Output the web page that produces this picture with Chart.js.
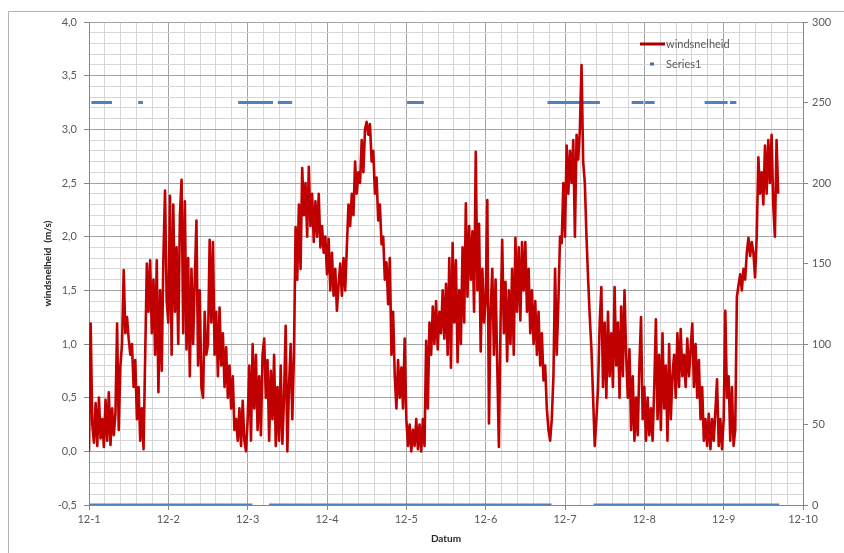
<!DOCTYPE html>
<html>
<head>
<meta charset="utf-8">
<script src="https://cdn.jsdelivr.net/npm/chart.js@4.4.1/dist/chart.umd.min.js"></script>
<style>
    html, body { margin: 0; padding: 0; background: #fff; }
    #wrap { position: relative; width: 844px; height: 553px; }
</style>
</head>
<body>
<div id="wrap"><canvas id="windChart"></canvas></div>
<script>
"use strict";

// date labels for the x axis, one per day
const dateLabels = ["12-1", "12-2", "12-3", "12-4", "12-5", "12-6", "12-7", "12-8", "12-9", "12-10"];

// half-hourly samples starting at 12-1 00:00 (one row = half a day)
const sampleStep = 1 / 48;
const windSpeed = [
    0.0, 1.19, 0.25, 0.08, 0.45, 0.05, 0.5, 0.12, 0.3, 0.04, 0.48, 0.1, 0.55, 0.06, 0.4, 0.15, 0.35, 1.19, 0.2, 0.8, 1.0, 1.69, 1.1, 1.25,
    1.05, 0.9, 1.0, 0.6, 0.85, 0.3, 0.6, 0.1, 0.4, 0.02, 0.9, 1.75, 1.3, 1.78, 1.1, 1.6, 0.9, 1.78, 0.55, 1.5, 0.75, 1.8, 2.43, 1.4,
    1.2, 2.38, 0.9, 2.3, 1.3, 1.9, 1.0, 2.2, 2.53, 1.1, 2.33, 0.95, 1.8, 0.7, 1.7, 1.0, 1.6, 2.15, 0.8, 1.5, 0.6, 0.5, 1.3, 0.9,
    1.0, 1.97, 1.2, 1.95, 0.9, 1.3, 0.7, 1.34, 0.8, 1.1, 0.6, 0.97, 0.5, 0.8, 0.4, 0.7, 0.2, 0.3, 0.1, 0.4, 0.05, 0.47, 0.1, 0.0,
    0.3, 0.8, 0.1, 1.0, 0.4, 0.9, 0.2, 0.7, 0.15, 0.9, 1.05, 0.5, 0.85, 0.1, 0.75, 0.3, 0.9, 0.05, 0.6, 0.1, 0.8, 0.07, 0.5, 1.17,
    0.0, 0.6, 1.0, 0.3, 0.9, 2.09, 1.6, 2.3, 1.7, 2.64, 2.2, 2.5, 2.0, 2.65, 2.1, 2.4, 1.95, 2.33, 2.0, 2.4, 1.9, 2.1, 1.85, 2.0,
    1.65, 1.98, 1.5, 1.85, 1.45, 1.7, 1.31, 1.55, 1.75, 1.45, 1.8, 1.5, 1.9, 2.3, 2.1, 2.4, 2.2, 2.7, 2.4, 2.6, 2.5, 2.9, 2.6, 3.0,
    3.07, 2.95, 3.05, 2.7, 2.8, 2.4, 2.55, 2.15, 2.3, 1.93, 2.0, 1.6, 1.76, 1.37, 1.8, 0.9, 1.3, 0.7, 0.4, 0.85, 0.5, 0.78, 0.4, 1.05,
    0.3, 0.05, 0.25, 0.0, 0.2, 0.05, 0.3, 0.02, 0.25, 0.0, 0.3, 0.05, 1.03, 0.4, 1.2, 0.9, 1.35, 1.0, 1.4, 0.95, 1.3, 1.1, 1.5, 1.05,
    1.56, 0.9, 1.8, 0.78, 1.94, 1.2, 1.78, 0.83, 1.5, 1.0, 1.9, 1.2, 2.31, 1.44, 2.1, 1.6, 2.05, 1.3, 2.79, 1.5, 2.12, 0.93, 1.7, 1.2,
    1.4, 2.34, 0.26, 1.3, 1.7, 0.9, 1.6, 0.8, 0.04, 1.2, 1.97, 1.1, 1.58, 0.84, 1.5, 1.0, 1.7, 0.9, 1.99, 1.3, 1.9, 1.22, 1.95, 1.5,
    1.95, 1.3, 1.7, 1.1, 1.5, 1.0, 1.4, 0.9, 1.3, 0.8, 1.1, 0.66, 0.8, 0.4, 0.2, 0.1, 0.3, 0.7, 1.7, 0.9, 1.4, 2.0, 1.94, 2.5,
    2.0, 2.85, 2.4, 2.8, 2.5, 2.9, 2.0, 2.95, 2.72, 3.0, 3.6, 2.7, 2.5, 2.0, 1.6, 1.25, 0.95, 0.5, 0.05, 0.3, 0.6, 1.2, 1.53, 0.6,
    1.2, 0.5, 1.3, 0.7, 1.1, 0.6, 1.53, 0.8, 1.2, 0.5, 1.35, 0.7, 1.5, 0.9, 0.5, 0.95, 0.2, 0.7, 0.1, 0.5, 0.15, 0.8, 1.25, 0.3,
    0.6, 0.1, 0.5, 0.15, 0.4, 0.1, 0.6, 1.23, 0.3, 0.9, 0.2, 1.1, 0.4, 0.8, 0.1, 1.0, 0.3, 0.7, 0.9, 0.5, 1.1, 0.6, 1.14, 0.7,
    0.9, 0.6, 1.05, 0.7, 0.95, 1.19, 0.6, 1.0, 0.5, 0.85, 0.3, 0.6, 0.1, 0.3, 0.05, 0.35, 0.02, 0.3, 0.1, 0.38, 0.67, 0.05, 0.3, 0.02,
    0.3, 1.31, 0.5, 0.7, 0.1, 0.6, 0.05, 0.2, 1.44, 1.55, 1.65, 1.5, 1.7, 1.6, 1.85, 1.99, 1.82, 1.95, 1.85, 1.62, 2.0, 2.74, 2.4, 2.6,
    2.3, 2.85, 2.4, 2.9, 2.5, 2.95, 2.3, 2.0, 2.9, 2.4
];

// Series1: periods (in days from 12-1) where the value sits at 250 or at 0
const series1HighLevel = 250;
const series1High = [[0.03, 0.29], [0.62, 0.68], [1.88, 2.32], [2.38, 2.56], [4.01, 4.22], [5.78, 6.44], [6.84, 6.99], [7.01, 7.13], [7.76, 8.05], [8.08, 8.16]];
const series1LowLevel = 0;
const series1Low = [[0, 2.06], [2.27, 5.83], [6.36, 8.70]];

const textColor = "#595959";
const majorGrid = "#a3a3a3";
const minorGrid = "#d6d6d6";
const fontFamily = "Lato, 'Liberation Sans', sans-serif";

function segmentsToPoints(segments, level) {
    return segments.flatMap(s => [
        { x: s[0], y: level },
        { x: s[1], y: level },
        { x: s[1], y: null }
    ]);
}

function isStep(value, step) {
    const n = value / step;
    return Math.abs(n - Math.round(n)) < 1e-6;
}

const frameAndLegend = {
    id: "frameAndLegend",
    afterDraw(chart) {
        const ctx = chart.ctx;
        const area = chart.chartArea;
        ctx.save();

        // outer frame of the chart object
        ctx.strokeStyle = "#b4b4b4";
        ctx.lineWidth = 1;
        ctx.beginPath();
        ctx.moveTo(8.5, chart.height);
        ctx.lineTo(8.5, 11.5);
        ctx.lineTo(chart.width, 11.5);
        ctx.stroke();

        // legend
        const lx = area.right - 163;
        const ly = area.top + 22;
        ctx.lineWidth = 3;
        ctx.strokeStyle = "#a00000";
        ctx.beginPath();
        ctx.moveTo(lx, ly);
        ctx.lineTo(lx + 25, ly);
        ctx.stroke();

        ctx.strokeStyle = "#4a6f9c";
        ctx.beginPath();
        ctx.moveTo(lx + 10, ly + 20);
        ctx.lineTo(lx + 14, ly + 20);
        ctx.stroke();

        ctx.fillStyle = textColor;
        ctx.font = "11px " + fontFamily;
        ctx.textBaseline = "middle";
        ctx.textAlign = "left";
        ctx.fillText("windsnelheid", lx + 26, ly);
        ctx.fillText("Series1", lx + 26, ly + 20);
        ctx.restore();
    }
};

function initializeChart() {
    const canvas = document.getElementById("windChart");

    new Chart(canvas, {
        type: "line",
        data: {
            datasets: [
                {
                    label: "windsnelheid",
                    data: windSpeed.map((v, i) => ({ x: i * sampleStep, y: v })),
                    yAxisID: "y",
                    borderColor: "#c00000",
                    borderWidth: 2.6,
                    borderJoinStyle: "round",
                    pointRadius: 0,
                    tension: 0
                },
                {
                    label: "Series1",
                    data: segmentsToPoints(series1High, series1HighLevel),
                    yAxisID: "y1",
                    borderColor: "#4f81bd",
                    borderWidth: 3,
                    borderCapStyle: "butt",
                    pointRadius: 0,
                    spanGaps: false
                },
                {
                    label: "Series1",
                    data: segmentsToPoints(series1Low, series1LowLevel),
                    yAxisID: "y1",
                    borderColor: "#4f81bd",
                    borderWidth: 3,
                    borderCapStyle: "butt",
                    pointRadius: 0,
                    spanGaps: false
                }
            ]
        },
        options: {
            responsive: true,
            maintainAspectRatio: false,
            animation: false,
            layout: { padding: { left: 38, top: 22, right: 0, bottom: 0 } },
            plugins: {
                legend: { display: false },
                tooltip: { enabled: false }
            },
            scales: {
                x: {
                    type: "linear",
                    min: 0,
                    max: 9,
                    ticks: {
                        stepSize: 0.2,
                        autoSkip: false,
                        maxRotation: 0,
                        padding: 3,
                        color: textColor,
                        font: { family: fontFamily, size: 11 },
                        callback: value => isStep(value, 1) ? dateLabels[Math.round(value)] : ""
                    },
                    grid: {
                        color: c => isStep(c.tick.value, 1) ? majorGrid : minorGrid,
                        tickColor: c => isStep(c.tick.value, 1) ? "#868686" : "rgba(0,0,0,0)",
                        tickLength: 5
                    },
                    border: { color: "#868686" },
                    title: {
                        display: true,
                        text: "Datum",
                        color: "#262626",
                        font: { family: fontFamily, size: 10, weight: "bold" },
                        padding: { top: 2, bottom: 8 }
                    },
                    afterFit: scale => { scale.height = 48; }
                },
                y: {
                    position: "left",
                    min: -0.5,
                    max: 4,
                    ticks: {
                        stepSize: 0.1,
                        autoSkip: false,
                        padding: 7,
                        color: textColor,
                        font: { family: fontFamily, size: 11 },
                        callback: value => isStep(value, 0.5) ? value.toFixed(1).replace(".", ",") : ""
                    },
                    grid: {
                        color: c => isStep(c.tick.value, 0.5) ? majorGrid : minorGrid,
                        tickColor: c => isStep(c.tick.value, 0.5) ? "#868686" : "rgba(0,0,0,0)",
                        tickLength: 5
                    },
                    border: { color: "#868686" },
                    title: {
                        display: true,
                        text: "windsnelheid  (m/s)",
                        color: "#262626",
                        font: { family: fontFamily, size: 10, weight: "bold" },
                        padding: { top: 4, bottom: 4 }
                    },
                    afterFit: scale => { scale.width = 51; }
                },
                y1: {
                    position: "right",
                    min: 0,
                    max: 300,
                    ticks: {
                        stepSize: 50,
                        padding: 4,
                        color: textColor,
                        font: { family: fontFamily, size: 11 }
                    },
                    grid: {
                        drawOnChartArea: false,
                        tickColor: "#868686",
                        tickLength: 5
                    },
                    border: { color: "#868686" },
                    afterFit: scale => { scale.width = 41; }
                }
            }
        },
        plugins: [frameAndLegend]
    });
}

document.addEventListener("DOMContentLoaded", initializeChart);
</script>
</body>
</html>
